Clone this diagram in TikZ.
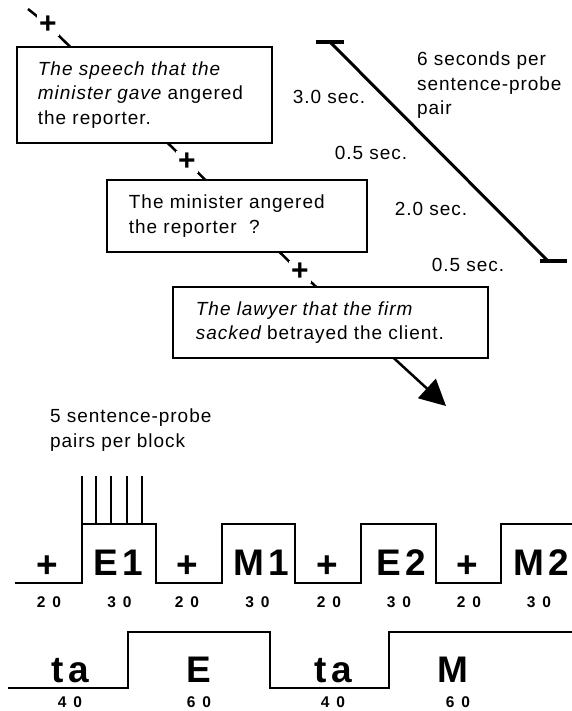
\documentclass[tikz,border=0pt]{standalone}
\usepackage{fontspec}
\setmainfont{Liberation Sans}[LetterSpace=5]
\newfontfamily\blkfont{Liberation Sans}[LetterSpace=12]
\usetikzlibrary{arrows.meta,backgrounds}
\tikzset{
  sbox/.style={draw, line width=2.5pt, fill=white, inner sep=0pt},
  stxt/.style={font=\fontsize{19}{24.5}\selectfont, align=left, inner sep=0pt, anchor=west},
  plusmark/.style={font=\bfseries\fontsize{30}{30}\selectfont, fill=white, inner sep=2.5pt},
  seclbl/.style={font=\fontsize{19}{24.5}\selectfont, inner sep=0pt},
  blk/.style={font=\blkfont\bfseries\fontsize{37}{37}\selectfont, inner sep=0pt, anchor=base},
  blkplus/.style={font=\blkfont\bfseries\fontsize{37}{37}\selectfont, inner sep=0pt},
  num/.style={font=\bfseries\fontsize{15.5}{15.5}\selectfont, inner sep=0pt, anchor=base},
  tl/.style={line width=2pt},
}
\newcommand{\nn}[2]{#1\kern7pt#2}
\begin{document}
\begin{tikzpicture}[x=1pt,y=-1pt]
\useasboundingbox (0,0) rectangle (572,711);

% sentence boxes
\node[sbox, minimum width=255pt, minimum height=96pt] (b1) at (144.5,95) {};
\node[stxt] (t1) at ([xshift=22pt]b1.west) {\itshape The speech that the\\ \itshape minister gave\upshape{} angered\\ the reporter.};
\node[sbox, minimum width=260pt, minimum height=72pt] (b2) at (237,216) {};
\node[stxt] (t2) at ([xshift=23pt]b2.west) {The minister angered\\ the reporter\ \ ?};
\node[sbox, minimum width=315pt, minimum height=71pt] (b3) at (330.5,322.5) {};
\node[stxt] (t3) at ([xshift=24pt]b3.west) {\itshape The lawyer that the firm\\ \itshape sacked\upshape{} betrayed the client.};

% plus marks on the sequence line
\coordinate (s0) at (28,9);
\node[plusmark] (p1) at (48,25) {+};
\node[plusmark] (p2) at (187,162) {+};
\node[plusmark] (p3) at (300,272) {+};
\coordinate (tip) at (446,406);
\begin{scope}[on background layer]
\draw[line width=2.5pt, -{Triangle[length=26pt,width=26pt]}] (s0) -- (p1.center) -- (p2.center) -- (p3.center) -- (tip);
\end{scope}

% time scale
\coordinate (ta1) at (316,42); \coordinate (ta2) at (344,42); \coordinate (tc1) at (330,42);
\coordinate (tb1) at (540,261); \coordinate (tb2) at (567,261); \coordinate (tc2) at (548,261);
\draw[line width=4pt] (ta1) -- (ta2);
\draw[line width=4pt] (tb1) -- (tb2);
\draw[line width=3pt] (tc1) -- (tc2);
\node[seclbl, align=left, anchor=north west] (six) at (417,52) {6 seconds per\\ sentence-probe\\ pair};
\node[seclbl] (s30) at (329,97) {3.0 sec.};
\node[seclbl] (s05a) at (371,153) {0.5 sec.};
\node[seclbl] (s20) at (431,209) {2.0 sec.};
\node[seclbl] (s05b) at (468,265) {0.5 sec.};

% block design
\node[seclbl, align=left, anchor=north west] (five) at (50,409) {5 sentence-probe\\ pairs per block};
\draw[tl] (15,583) -- (82,583) -- (82,524) -- (156,524) -- (156,583) -- (222,583) -- (222,524) -- (295,524) -- (295,583) -- (361,583) -- (361,524) -- (436,524) -- (436,583) -- (501,583) -- (501,524) -- (572,524);
\foreach \x in {82,96,111,127,142} \draw[tl] (\x,476) -- (\x,524);
\node[blkplus] (q1) at (47,567) {+};
\node[blk] (e1) at (118.5,575) {E1};
\node[blkplus] (q2) at (187,567) {+};
\node[blk] (m1) at (261,575) {M1};
\node[blkplus] (q3) at (327,567) {+};
\node[blk] (e2) at (401,575) {E2};
\node[blkplus] (q4) at (467,567) {+};
\node[blk] (m2) at (541,575) {M2};
\node[num] (n1) at (49,607) {\nn20};
\node[num] (n2) at (119.5,607) {\nn30};
\node[num] (n3) at (187,607) {\nn20};
\node[num] (n4) at (257.5,607) {\nn30};
\node[num] (n5) at (329,607) {\nn20};
\node[num] (n6) at (399,607) {\nn30};
\node[num] (n7) at (469,607) {\nn20};
\node[num] (n8) at (539,607) {\nn30};

\draw[tl] (8,688) -- (128,688) -- (128,632) -- (270,632) -- (270,688) -- (389,688) -- (389,632) -- (572,632);
\node[blk] (ta) at (70,682) {ta};
\node[blk] (ee) at (199,682) {E};
\node[blk] (tb) at (333,682) {ta};
\node[blk] (mm) at (453,682) {M};
\node[num] (k1) at (70,707) {\nn40};
\node[num] (k2) at (199,707) {\nn60};
\node[num] (k3) at (333,707) {\nn40};
\node[num] (k4) at (458,707) {\nn60};
\end{tikzpicture}
\end{document}
